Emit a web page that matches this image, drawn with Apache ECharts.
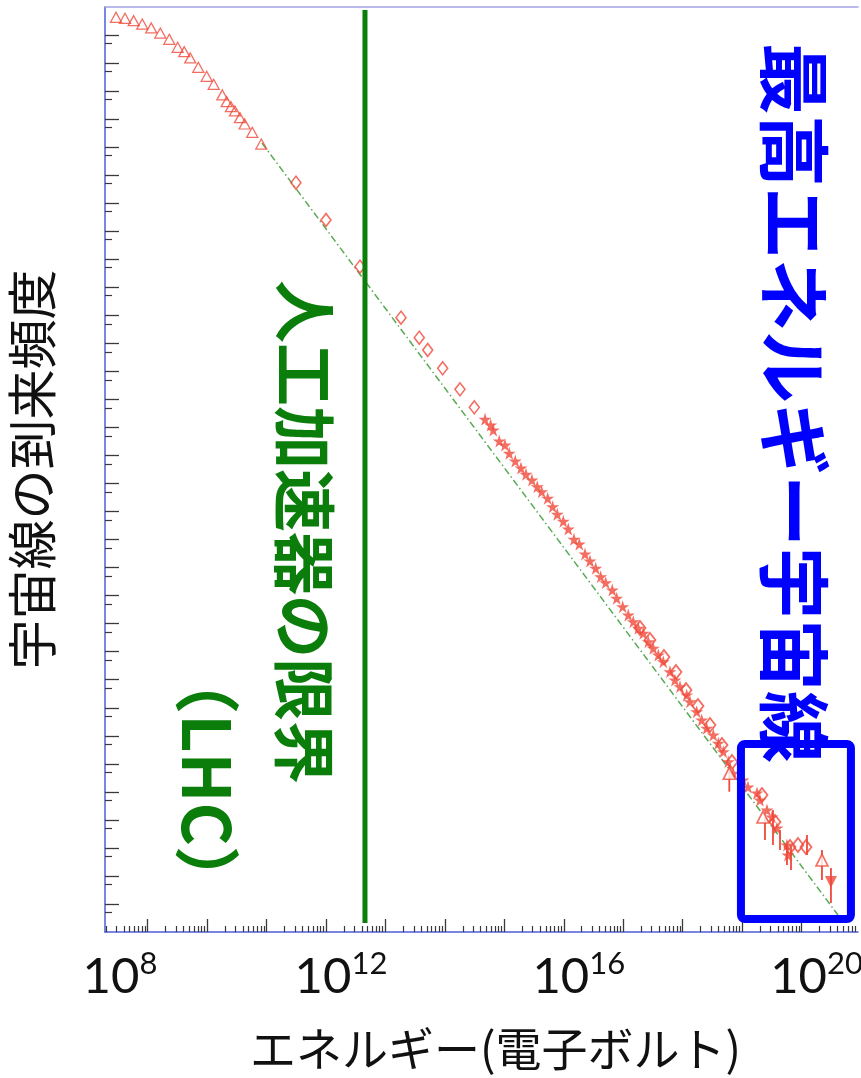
<!DOCTYPE html>
<html>
<head>
<meta charset="utf-8">
<script src="https://cdn.jsdelivr.net/npm/echarts@6/dist/echarts.min.js"></script>
<style>
  html, body { margin: 0; padding: 0; background: #ffffff; }
  #chart { width: 861px; height: 1078px; }
</style>
</head>
<body>
<div id="chart"></div>
<script>
// All values are log10: energy in eV on x, arrival flux on y.

// Low-energy measurements (open triangles)
const lowTriangles = [
  [8.468, 3.633], [8.619, 3.597], [8.765, 3.511], [8.910, 3.393], [9.061, 3.251],
  [9.213, 3.072], [9.364, 2.848], [9.505, 2.562], [9.616, 2.405], [9.717, 2.181],
  [9.852, 1.849], [9.993, 1.528], [10.111, 1.242], [10.256, 0.861], [10.330, 0.621],
  [10.402, 0.443], [10.469, 0.290], [10.553, 0.051], [10.632, -0.174], [10.760, -0.470],
  [10.912, -0.888]
];

// Direct measurements (open diamonds)
const directDiamonds = [
  [11.495, -2.268], [12.000, -3.599], [12.572, -5.265], [13.262, -7.085], [13.569, -7.798],
  [13.711, -8.237], [13.963, -8.890], [14.254, -9.639], [14.495, -10.281]
];

// Air-shower measurements (filled stars)
const showerStars = [
  [14.675, -10.709], [14.770, -10.913], [14.814, -11.091], [14.915, -11.483], [15.011, -11.626],
  [15.083, -11.922], [15.184, -12.197], [15.280, -12.447], [15.364, -12.672], [15.465, -12.875],
  [15.554, -13.114], [15.628, -13.292], [15.729, -13.528], [15.813, -13.827], [15.891, -14.099],
  [15.992, -14.348], [16.076, -14.623], [16.172, -14.990], [16.261, -15.158], [16.357, -15.515],
  [16.441, -15.765], [16.537, -16.025], [16.621, -16.325], [16.705, -16.539], [16.816, -16.799],
  [16.890, -17.095], [16.991, -17.395], [17.085, -17.691], [17.169, -17.930], [17.253, -18.166],
  [17.337, -18.344], [17.421, -18.644], [17.505, -18.879], [17.590, -19.118], [17.674, -19.357],
  [17.786, -19.714], [17.870, -20.010], [17.955, -20.249], [18.067, -20.545], [18.123, -20.784],
  [18.236, -21.141], [18.320, -21.437], [18.404, -21.733], [18.515, -21.972], [18.599, -22.268],
  [18.683, -22.568], [18.767, -22.925], [18.851, -23.339], [19.014, -23.578], [19.098, -23.827],
  [19.250, -24.041], [19.300, -24.291], [19.418, -24.648], [19.502, -24.898], [19.586, -25.290],
  [19.754, -25.897], [19.771, -26.253]
];

// Air-shower measurements (open diamonds)
const showerDiamonds = [
  [17.282, -18.155], [17.450, -18.583], [17.685, -19.189], [17.887, -19.725], [18.056, -20.367],
  [18.257, -20.938], [18.459, -21.615], [18.661, -22.329], [18.829, -22.935], [19.334, -24.113],
  [19.553, -25.076], [19.805, -25.968], [19.939, -25.897], [20.074, -25.968]
];

// Highest-energy points (open triangles) and an upper limit (filled, pointing down)
const highTriangles = [[18.784, -23.339], [19.351, -24.898], [20.343, -26.432]];
const upperLimits = [[20.494, -27.216]];

// Error bars: [energy, upper flux, lower flux]
const errorBars = [
  [18.784, -23.04, -23.995], [19.384, -24.898, -25.718], [19.519, -24.648, -25.897],
  [19.637, -25.361, -26.075], [19.754, -25.897, -26.610], [19.822, -25.897, -26.789],
  [20.091, -25.540, -26.253], [20.343, -26.075, -27.145], [20.494, -26.717, -27.966]
];

// Power-law reference line
const powerLaw = [[10.923, -0.852], [20.612, -28.394]];

// Accelerator limit (LHC)
const lhcEnergy = 12.656;
const lhcFluxRange = [3.893, -28.68];

// Highlighted region of the highest-energy cosmic rays: [E0, F0, E1, F1]
const uhecrBox = [18.98, -22.29, 20.83, -28.54];

// Axis decades and tick labels
const X_MIN = 8.283, X_MAX = 20.949;
const Y_MIN = -29, Y_MAX = 4;
const xLabelExps = [8, 12, 16, 20];

const RED = '#f0483a';
const STAR = 'path://M50,0 L61,35 L98,35 L68,57 L79,92 L50,70 L21,92 L32,57 L2,35 L39,35 Z';

function range(a, b) { const r = []; for (let i = a; i <= b; i++) r.push(i); return r; }
const xDecades = range(Math.ceil(X_MIN), Math.floor(X_MAX));
const xMinor = [];
for (let d = Math.floor(X_MIN); d <= Math.floor(X_MAX); d++) {
  for (let k = 2; k <= 9; k++) {
    const v = d + Math.log10(k);
    if (v >= X_MIN && v <= X_MAX) xMinor.push(v);
  }
}
const yDecades = range(Y_MIN + 1, Y_MAX - 1);
const yMinor = yDecades.map(d => d - Math.log10(2)).filter(v => v > Y_MIN);

const chart = echarts.init(document.getElementById('chart'), null, { renderer: 'canvas' });

const axisBlue = '#4d5ed8';
const tickColor = '#3a3a3a';

const option = {
  backgroundColor: '#ffffff',
  animation: false,
  grid: { left: 105, right: 3, top: 7, bottom: 146, outerBoundsMode: 'none', containLabel: false },
  xAxis: [
    {
      type: 'value', position: 'bottom', min: X_MIN, max: X_MAX,
      axisLine: { show: true, onZero: false, lineStyle: { color: axisBlue, width: 1.5 } },
      axisTick: { show: true, inside: true, length: 13, customValues: xDecades, lineStyle: { color: tickColor, width: 1.3 } },
      splitLine: { show: false },
      axisLabel: {
        show: true,
        customValues: xLabelExps.map(e => Math.max(e, X_MIN)),
        margin: 14,
        formatter: v => '{sp| }{b|10}{s|' + Math.round(v) + '}',
        rich: {
          sp: { width: 30, fontSize: 10 },
          b: { fontSize: 49, fontFamily: 'Lato', color: '#111111', verticalAlign: 'bottom', lineHeight: 56 },
          s: { fontSize: 31, fontFamily: 'Lato', color: '#111111', verticalAlign: 'bottom', padding: [0, 0, 23, 0] }
        }
      },
      name: 'エネルギー(電子ボルト)',
      nameLocation: 'middle',
      nameGap: 94,
      nameTextStyle: { fontSize: 46, fontFamily: 'Noto Sans CJK JP', color: '#111111', padding: [0, 0, 0, 28] }
    },
    {
      type: 'value', position: 'bottom', min: X_MIN, max: X_MAX,
      axisLine: { show: false, onZero: false },
      axisTick: { show: true, inside: true, length: 6, customValues: xMinor, lineStyle: { color: tickColor, width: 1.2 } },
      axisLabel: { show: false },
      splitLine: { show: false }
    },
    {
      type: 'value', position: 'top', min: X_MIN, max: X_MAX,
      axisLine: { show: true, onZero: false, lineStyle: { color: '#a3a3e3', width: 1.5 } },
      axisTick: { show: false }, axisLabel: { show: false }, splitLine: { show: false }
    }
  ],
  yAxis: [
    {
      type: 'value', position: 'left', min: Y_MIN, max: Y_MAX,
      axisLine: { show: true, onZero: false, lineStyle: { color: axisBlue, width: 1.5 } },
      axisTick: { show: true, inside: true, length: 14, customValues: yDecades, lineStyle: { color: tickColor, width: 1.3 } },
      axisLabel: { show: false },
      splitLine: { show: false },
      name: '宇宙線の到来頻度',
      nameLocation: 'middle',
      nameRotate: 90,
      nameGap: 48,
      nameTextStyle: { fontSize: 50, fontFamily: 'Noto Sans CJK JP', color: '#111111' }
    },
    {
      type: 'value', position: 'left', min: Y_MIN, max: Y_MAX,
      axisLine: { show: false, onZero: false },
      axisTick: { show: true, inside: true, length: 7, customValues: yMinor, lineStyle: { color: tickColor, width: 1.2 } },
      axisLabel: { show: false },
      splitLine: { show: false }
    }
  ],
  series: [
    {
      name: 'power law', type: 'line', data: powerLaw, symbol: 'none', z: 1,
      lineStyle: { color: '#5aaa55', width: 1.5, type: [7, 3, 1.5, 3] }
    },
    {
      name: 'low energy', type: 'scatter', data: lowTriangles, symbol: 'triangle', symbolSize: [11, 10], z: 3,
      itemStyle: { color: 'rgba(0,0,0,0)', borderColor: RED, borderWidth: 1.3 }
    },
    {
      name: 'direct', type: 'scatter', data: directDiamonds, symbol: 'diamond', symbolSize: [10, 13], z: 3,
      itemStyle: { color: 'rgba(0,0,0,0)', borderColor: RED, borderWidth: 1.6 }
    },
    {
      name: 'errors', type: 'custom', data: errorBars, z: 3,
      encode: { x: 0, y: [1, 2] },
      renderItem: (params, api) => {
        const a = api.coord([api.value(0), api.value(1)]);
        const b = api.coord([api.value(0), api.value(2)]);
        return { type: 'line', shape: { x1: a[0], y1: a[1], x2: b[0], y2: b[1] }, style: { stroke: RED, lineWidth: 1.8 } };
      }
    },
    {
      name: 'shower diamonds', type: 'scatter', data: showerDiamonds, symbol: 'diamond', symbolSize: [11, 14], z: 3,
      itemStyle: { color: 'rgba(0,0,0,0)', borderColor: RED, borderWidth: 1.8 }
    },
    {
      name: 'shower stars', type: 'scatter', data: showerStars, symbol: STAR, symbolSize: 13, z: 4,
      itemStyle: { color: RED }
    },
    {
      name: 'highest', type: 'scatter', data: highTriangles, symbol: 'triangle', symbolSize: [12, 12], z: 4,
      itemStyle: { color: '#ffffff', borderColor: RED, borderWidth: 1.6 }
    },
    {
      name: 'upper limit', type: 'scatter', data: upperLimits, symbol: 'triangle', symbolRotate: 180, symbolSize: [12, 12], z: 4,
      itemStyle: { color: RED }
    },
    {
      name: 'LHC', type: 'line', symbol: 'none', z: 5,
      data: lhcFluxRange.map(f => [lhcEnergy, f]),
      lineStyle: { color: '#0b7d0b', width: 5 }
    },
    {
      name: 'UHECR region', type: 'custom', data: [uhecrBox], z: 6,
      encode: { x: [0, 2], y: [1, 3] },
      renderItem: (params, api) => {
        const p0 = api.coord([api.value(0), api.value(1)]);
        const p1 = api.coord([api.value(2), api.value(3)]);
        return {
          type: 'rect',
          shape: { x: p0[0], y: p0[1], width: p1[0] - p0[0], height: p1[1] - p0[1], r: 4 },
          style: { fill: 'none', stroke: '#0000ff', lineWidth: 8 }
        };
      }
    }
  ],
  graphic: [
    {
      type: 'text', x: 305, y: 532, rotation: -Math.PI / 2, z: 10,
      style: { text: '人工加速器の限界', fontSize: 63, fontWeight: 'bold', fontFamily: 'Noto Sans CJK JP', fill: '#0b7d0b', align: 'center', verticalAlign: 'middle' }
    },
    {
      type: 'text', x: 207, y: 780, rotation: -Math.PI / 2, z: 10,
      style: { text: '（LHC）', fontSize: 66, fontWeight: 'bold', fontFamily: 'Noto Sans CJK JP', fill: '#0b7d0b', align: 'center', verticalAlign: 'middle' }
    },
    {
      type: 'text', x: 794, y: 403, rotation: -Math.PI / 2, z: 10,
      style: { text: '最高エネルギー宇宙線', fontSize: 72, fontWeight: 'bold', fontFamily: 'Noto Sans CJK JP', fill: '#0000ff', align: 'center', verticalAlign: 'middle' }
    }
  ]
};

chart.setOption(option);
</script>
</body>
</html>
